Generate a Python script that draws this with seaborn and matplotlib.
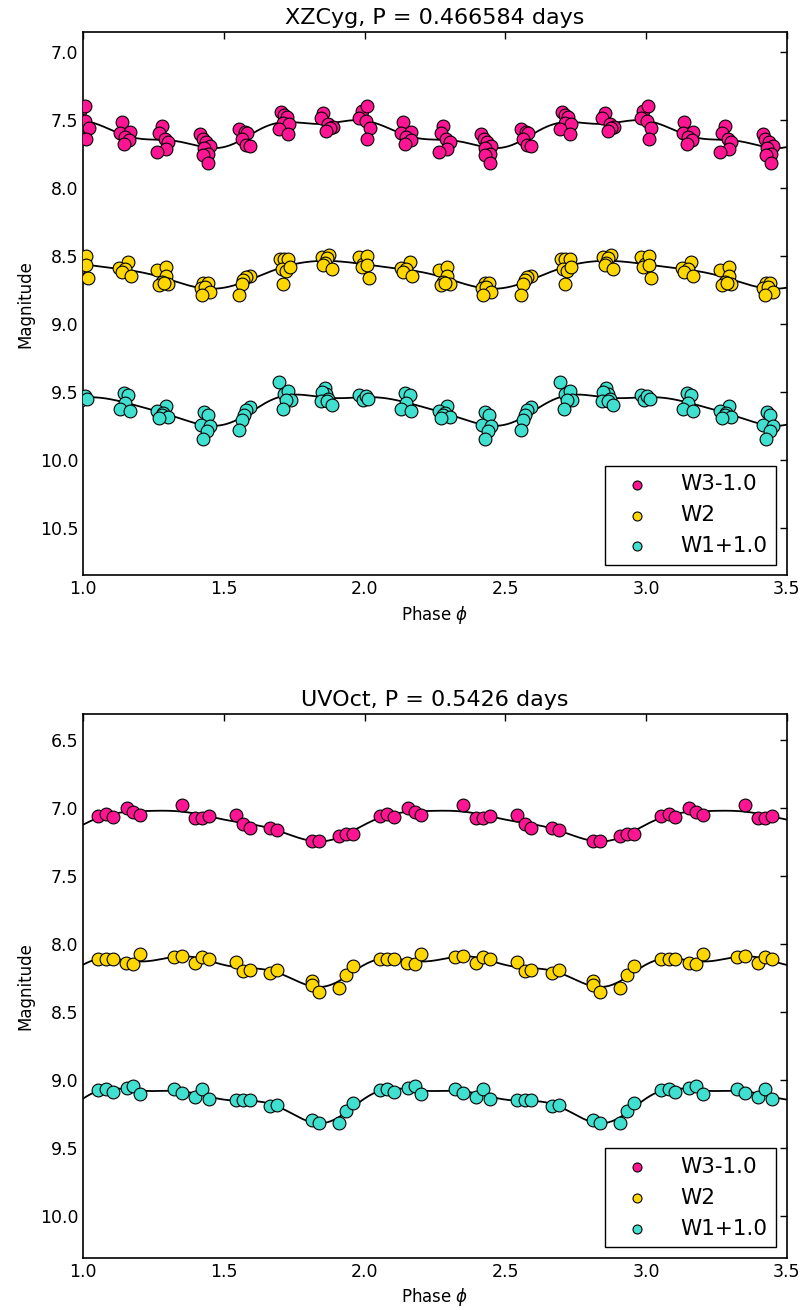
import numpy as np
import pandas as pd
import seaborn as sns
import matplotlib
matplotlib.use("Agg")
import matplotlib.pyplot as plt

# XZ Cyg -- phase and plotted magnitude (W3-1.0, W2, W1+1.0)
xz_w3_phase = [0.007, 0.005, 0.019, 0.009, 0.989, 0.981,
               0.136, 0.130, 0.166, 0.148, 0.163, 0.145,
               0.279, 0.270, 0.290, 0.302, 0.294, 0.263,
               0.415, 0.424, 0.436, 0.450, 0.429, 0.444, 0.426, 0.444,
               0.554, 0.575, 0.581, 0.563, 0.577, 0.592,
               0.703, 0.713, 0.723, 0.711, 0.732, 0.695, 0.729,
               0.853, 0.844, 0.871, 0.886, 0.877, 0.863]
xz_w3_mag = [7.395, 7.505, 7.554, 7.638, 7.432, 7.486,
             7.515, 7.596, 7.588, 7.625, 7.645, 7.674,
             7.542, 7.596, 7.640, 7.657, 7.711, 7.731,
             7.598, 7.635, 7.659, 7.689, 7.707, 7.748, 7.755, 7.817,
             7.567, 7.584, 7.596, 7.640, 7.682, 7.687,
             7.441, 7.461, 7.478, 7.522, 7.529, 7.567, 7.601,
             7.444, 7.486, 7.529, 7.547, 7.559, 7.576]

xz_w2_phase = [0.009, 0.009, 0.016, 0.981, 0.995, 0.989,
               0.160, 0.128, 0.148, 0.136, 0.168,
               0.263, 0.294, 0.294, 0.279, 0.270, 0.302, 0.287,
               0.427, 0.442, 0.417, 0.432, 0.450, 0.421,
               0.592, 0.577, 0.569, 0.563, 0.554,
               0.699, 0.713, 0.729, 0.705, 0.720, 0.735, 0.711,
               0.847, 0.874, 0.865, 0.859, 0.853, 0.883]
xz_w2_mag = [8.496, 8.564, 8.657, 8.503, 8.557, 8.581,
             8.540, 8.588, 8.596, 8.613, 8.643,
             8.601, 8.581, 8.645, 8.687, 8.711, 8.706, 8.694,
             8.699, 8.699, 8.736, 8.724, 8.760, 8.785,
             8.643, 8.650, 8.674, 8.706, 8.785,
             8.522, 8.522, 8.522, 8.596, 8.606, 8.576, 8.706,
             8.503, 8.491, 8.515, 8.547, 8.564, 8.593]

xz_w1_phase = [0.005, 0.013, 0.981, 0.993,
               0.145, 0.160, 0.148, 0.130, 0.166,
               0.294, 0.263, 0.284, 0.279, 0.302, 0.270,
               0.429, 0.442, 0.417, 0.450, 0.439, 0.427,
               0.592, 0.578, 0.571, 0.563, 0.554,
               0.695, 0.713, 0.729, 0.737, 0.720, 0.709,
               0.859, 0.863, 0.847, 0.871, 0.844, 0.865, 0.883]
xz_w1_mag = [9.527, 9.551, 9.520, 9.557,
             9.507, 9.525, 9.581, 9.625, 9.638,
             9.601, 9.643, 9.654, 9.667, 9.684, 9.691,
             9.650, 9.667, 9.740, 9.753, 9.790, 9.846,
             9.613, 9.630, 9.667, 9.704, 9.782,
             9.429, 9.515, 9.495, 9.557, 9.562, 9.625,
             9.471, 9.515, 9.503, 9.551, 9.564, 9.569, 9.593]

# UV Oct
uv_w3_phase = [0.053, 0.080, 0.104, 0.154, 0.178, 0.201, 0.350, 0.397, 0.421, 0.447,
               0.543, 0.569, 0.592, 0.664, 0.689, 0.812, 0.838, 0.909, 0.932, 0.957]
uv_w3_mag = [7.061, 7.044, 7.066, 7.000, 7.032, 7.054, 6.982, 7.073, 7.073, 7.061,
             7.056, 7.122, 7.147, 7.147, 7.166, 7.245, 7.245, 7.208, 7.191, 7.196]

uv_w2_phase = [0.053, 0.080, 0.104, 0.152, 0.178, 0.201, 0.322, 0.350, 0.397, 0.421, 0.447,
               0.543, 0.569, 0.592, 0.664, 0.689, 0.812, 0.812, 0.838, 0.909, 0.932, 0.957]
uv_w2_mag = [8.110, 8.110, 8.115, 8.144, 8.152, 8.078, 8.096, 8.091, 8.140, 8.096, 8.110,
             8.132, 8.201, 8.196, 8.213, 8.193, 8.274, 8.303, 8.355, 8.328, 8.232, 8.161]

uv_w1_phase = [0.053, 0.080, 0.104, 0.154, 0.178, 0.201, 0.322, 0.350, 0.397, 0.421, 0.447,
               0.543, 0.569, 0.592, 0.664, 0.689, 0.812, 0.838, 0.909, 0.932, 0.957]
uv_w1_mag = [9.078, 9.066, 9.088, 9.063, 9.046, 9.103, 9.066, 9.096, 9.125, 9.071, 9.144,
             9.151, 9.151, 9.151, 9.193, 9.188, 9.299, 9.316, 9.321, 9.230, 9.174]

bands = ["W3-1.0", "W2", "W1+1.0"]
colors = ["#ff1493", "#ffd700", "#40e0d0"]


def fourier_fit(phase, mag, order, grid):
    # least-squares Fourier series fit of the light curve
    phase = np.asarray(phase)
    cols = [np.ones_like(phase)]
    gcols = [np.ones_like(grid)]
    for k in range(1, order + 1):
        cols += [np.cos(2 * np.pi * k * phase), np.sin(2 * np.pi * k * phase)]
        gcols += [np.cos(2 * np.pi * k * grid), np.sin(2 * np.pi * k * grid)]
    coef, *_ = np.linalg.lstsq(np.column_stack(cols), np.asarray(mag), rcond=None)
    return np.column_stack(gcols) @ coef


def light_curve_panel(ax, series, title, ylim, yticks, order):
    grid = np.linspace(1.0, 3.5, 800)
    xticks = [1.0, 1.5, 2.0, 2.5, 3.0, 3.5]
    for (ph, mg), band, col in zip(series, bands, colors):
        # repeat the phased data over several cycles
        df = pd.DataFrame({
            "phase": np.concatenate([np.asarray(ph) + k for k in (0, 1, 2, 3)]),
            "mag": np.tile(mg, 4),
        })
        sns.scatterplot(data=df, x="phase", y="mag", ax=ax, color=col, s=85,
                        edgecolor="black", linewidth=0.8, label=band, zorder=3)
        fit = fourier_fit(ph, mg, order, grid)
        sns.lineplot(x=grid, y=fit, ax=ax, color="black", linewidth=1.3,
                     estimator=None, sort=False, zorder=2)
    ax.set_xlim(1.0, 3.5)
    ax.set_ylim(*ylim)
    ax.set_xticks(xticks)
    ax.set_yticks(yticks)
    ax.set_xticklabels([f"{t:.1f}" for t in xticks])
    ax.set_yticklabels([f"{t:.1f}" for t in yticks])
    ax.set_title(title, fontsize=16)
    ax.set_xlabel(r"Phase $\phi$", fontsize=12)
    ax.set_ylabel("Magnitude", fontsize=12)
    ax.tick_params(direction="in", length=5, width=1, top=True, right=True,
                   labelsize=12.5, colors="black")
    for sp in ax.spines.values():
        sp.set_linewidth(1.2)
        sp.set_color("black")
    leg = ax.legend(loc="lower right", fontsize=15.5, scatterpoints=1,
                    markerscale=0.7, fancybox=False, framealpha=1,
                    edgecolor="black", borderaxespad=0.5, handlelength=2.2,
                    handletextpad=0.9)
    leg.get_frame().set_linewidth(1.0)


sns.set_style("white")
plt.rcParams["font.family"] = ["DejaVu Sans"]
plt.rcParams["mathtext.fontset"] = "dejavusans"
plt.rcParams["text.color"] = "black"
plt.rcParams["axes.labelcolor"] = "black"
plt.rcParams["xtick.color"] = "black"
plt.rcParams["ytick.color"] = "black"

fig = plt.figure(figsize=(8.06, 13.1), dpi=100)
ax1 = fig.add_axes([0.1034, 0.5608, 0.8727, 0.4147])
ax2 = fig.add_axes([0.1034, 0.0397, 0.8727, 0.4153])

light_curve_panel(ax1,
                  [(xz_w3_phase, xz_w3_mag), (xz_w2_phase, xz_w2_mag), (xz_w1_phase, xz_w1_mag)],
                  "XZCyg, P = 0.466584 days", (10.85, 6.85),
                  [7.0, 7.5, 8.0, 8.5, 9.0, 9.5, 10.0, 10.5], order=3)
light_curve_panel(ax2,
                  [(uv_w3_phase, uv_w3_mag), (uv_w2_phase, uv_w2_mag), (uv_w1_phase, uv_w1_mag)],
                  "UVOct, P = 0.5426 days", (10.31, 6.31),
                  [6.5, 7.0, 7.5, 8.0, 8.5, 9.0, 9.5, 10.0], order=3)

fig.savefig("out.png", dpi=100)
